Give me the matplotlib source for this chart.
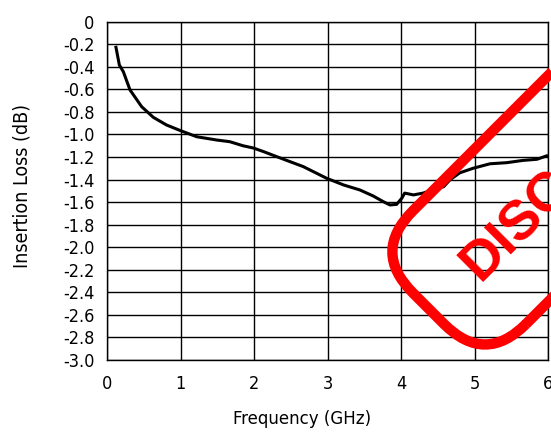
import matplotlib
matplotlib.use("Agg")
import matplotlib.pyplot as plt
from matplotlib import font_manager
from matplotlib.patches import FancyBboxPatch
from matplotlib.transforms import Affine2D, IdentityTransform
import numpy as np

# choose a condensed / narrow sans font if one is installed
cond = None
for f in font_manager.fontManager.ttflist:
    fn = f.fname.lower()
    if ("condensed" in fn or "narrow" in fn) and f.weight in (400, "normal", "regular") \
            and f.style == "normal" and "mono" not in fn and "serif" not in f.name.lower():
        cond = f
        break
if cond is not None:
    plt.rcParams['font.family'] = [cond.name, "DejaVu Sans"]
    plt.rcParams['font.stretch'] = cond.stretch
    TICK, XL, YL = 13, 13.3, 14
else:
    plt.rcParams['font.family'] = ["Roboto", "DejaVu Sans"]
    TICK, XL, YL = 13, 13.3, 15

freq = [0.122, 0.168, 0.222, 0.313, 0.472, 0.63, 0.81, 1.00, 1.22, 1.49, 1.67, 1.85, 1.99,
        2.13, 2.31, 2.49, 2.67, 2.99, 3.22, 3.44, 3.62, 3.76, 3.85, 3.94, 4.01, 4.05,
        4.17, 4.30, 4.44, 4.58, 4.67, 4.80, 4.98, 5.21, 5.44, 5.66, 5.85, 5.98]
loss = [-0.227, -0.384, -0.443, -0.605, -0.754, -0.848, -0.916, -0.966, -1.02, -1.049, -1.064, -1.10, -1.12,
        -1.152, -1.197, -1.241, -1.285, -1.389, -1.448, -1.492, -1.545, -1.596, -1.625, -1.62, -1.566, -1.52,
        -1.536, -1.52, -1.49, -1.463, -1.40, -1.34, -1.30, -1.26, -1.25, -1.23, -1.22, -1.19]

xticks = [0, 1, 2, 3, 4, 5, 6]
yticks = [0, -0.2, -0.4, -0.6, -0.8, -1.0, -1.2, -1.4, -1.6, -1.8, -2.0, -2.2, -2.4, -2.6, -2.8, -3.0]
ylabels = ["0"] + [f"{v:.1f}" for v in yticks[1:]]
stamp_text = "DISCONTINUED"

W, H = 551, 437
fig = plt.figure(figsize=(W/100, H/100), dpi=100)
ax = fig.add_axes([107/W, 1-360/H, (548-107)/W, (360-21.7)/H])
ax.set_xlim(0, 6)
ax.set_ylim(-3.0, 0)
ax.set_xticks(xticks)
ax.set_yticks(yticks)
ax.set_yticklabels(ylabels)
ax.grid(True, color="black", linewidth=1.0)
ax.tick_params(length=0, labelsize=TICK)
ax.tick_params(axis="y", pad=9)
ax.tick_params(axis="x", pad=11)
for s in ax.spines.values():
    s.set_linewidth(1.0)
ax.plot(freq, loss, color="black", linewidth=2.2, zorder=3)
ax.set_xlabel("Frequency (GHz)", fontsize=XL)
ax.xaxis.set_label_coords((302-107)/441, -(419-360)/338.3, transform=ax.transAxes)
ax.xaxis.label.set_va("center")
ax.set_ylabel("Insertion Loss (dB)", fontsize=YL)
ax.yaxis.set_label_coords(-(107-22)/441, (360-186.5)/338.3, transform=ax.transAxes)
ax.yaxis.label.set_va("center")

# DISCONTINUED stamp (pixel coordinates)
ang = 45
bx, by = 485, 72
sw, sh = 560, 160
tr = Affine2D().rotate_deg(ang).translate(bx, by)
stamp = FancyBboxPatch((0, 0), sw, sh, boxstyle="round,pad=0,rounding_size=58",
                       fill=False, edgecolor="#ff0000", linewidth=7.5,
                       transform=tr + IdentityTransform(), zorder=5, clip_on=False)
fig.patches.append(stamp)
lx, ly = 55, 62
c, s_ = np.cos(np.radians(ang)), np.sin(np.radians(ang))
tx = bx + lx*c - ly*s_
ty = by + lx*s_ + ly*c
fig.text(tx, ty, stamp_text, transform=IdentityTransform(), rotation=ang,
         rotation_mode="anchor", ha="left", va="baseline", color="#ff0000",
         fontsize=40, fontweight="bold", family=["Liberation Sans", "DejaVu Sans"],
         stretch="normal", zorder=6)

fig.savefig("out.png", dpi=100)
